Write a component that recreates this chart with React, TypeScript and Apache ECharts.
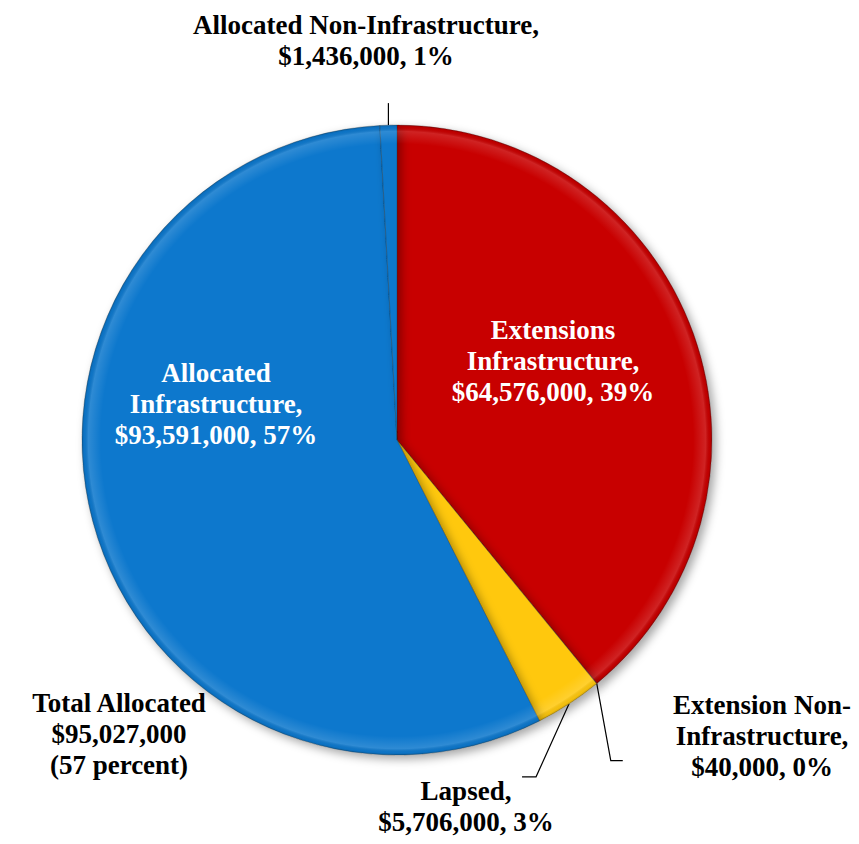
import React, { useEffect, useRef } from "react";
import * as echarts from "echarts";

const categories = [
  "Extensions\nInfrastructure",
  "Extension Non-\nInfrastructure",
  "Lapsed",
  "Allocated\nInfrastructure",
  "Allocated Non-Infrastructure",
];
const values = [64576000, 40000, 5706000, 93591000, 1436000];
const colors = ["#C80000", "#C80000", "#FFC80A", "#0A78CD", "#0A78CD"];
const labelColors = ["#FFFFFF", "#000000", "#000000", "#FFFFFF", "#000000"];
const allocatedIdx = [3, 4];
const totalTitle = "Total Allocated";

const fmt = (v: number) => "$" + v.toLocaleString("en-US");

export default function App() {
  const ref = useRef<HTMLDivElement>(null);
  useEffect(() => {
    if (!ref.current) return;
    const chart = echarts.init(ref.current, null, { renderer: "svg" });
    const total = values.reduce((a, b) => a + b, 0);
    const allocated = allocatedIdx.reduce((a, i) => a + values[i], 0);
    const pct = (v: number) => Math.round((v / total) * 100);
    const cx = 397,
      cy = 440,
      R = 315;

    const labelPos: Record<number, any> = {
      0: { x: 553, y: 361 },
      1: { x: 762, y: 736, line: [[14, 77], [26, 77]] },
      2: { x: 466, y: 806, line: [[-33, 73], [-47, 73]] },
      3: { x: 216, y: 404 },
      4: { x: 366, y: 40, line: [[0, -22], [0, -22]] },
    };

    const font = {
      fontFamily: "'Liberation Serif', 'Times New Roman', serif",
      fontWeight: "bold" as const,
      fontSize: 27,
      lineHeight: 31,
    };

    const option: any = {
      animation: false,
      backgroundColor: "#FFFFFF",
      series: [
        {
          type: "pie",
          center: [cx, cy],
          radius: [0, R],
          startAngle: 90,
          clockwise: true,
          avoidLabelOverlap: false,
          itemStyle: {
            borderColor: "rgba(40,40,40,0.4)",
            borderWidth: 0.7,
            shadowBlur: 10,
            shadowOffsetX: 4,
            shadowOffsetY: 4,
            shadowColor: "rgba(0,0,0,0.35)",
          },
          data: categories.map((name, i) => ({
            name,
            value: values[i],
            itemStyle: { color: colors[i] },
            label: {
              show: true,
              position: labelPos[i].line ? "outside" : "inside",
              color: labelColors[i],
              align: "center",
              ...font,
              formatter: () => `${name},\n${fmt(values[i])}, ${pct(values[i])}%`,
            },
            labelLine: {
              show: !!labelPos[i].line,
              length: 20,
              length2: 10,
              lineStyle: { color: "#000000", width: 1.2 },
            },
          })),
          labelLayout: (params: any) => {
            const p = labelPos[params.dataIndex];
            const res: any = {
              x: p.x,
              y: p.y,
              align: "center",
              verticalAlign: "middle",
            };
            if (p.line && params.labelLinePoints) {
              const e = params.labelLinePoints[0];
              res.labelLinePoints = [
                [e[0], e[1]],
                [e[0] + p.line[0][0], e[1] + p.line[0][1]],
                [e[0] + p.line[1][0], e[1] + p.line[1][1]],
              ];
            }
            return res;
          },
        },
        {
          type: "pie",
          center: [cx, cy],
          radius: [0, R],
          startAngle: 90,
          clockwise: true,
          silent: true,
          z: 3,
          label: { show: false },
          labelLine: { show: false },
          itemStyle: {
            borderWidth: 0,
            color: new echarts.graphic.RadialGradient(
              cx,
              cy,
              R,
              [
                { offset: 0, color: "rgba(255,255,255,0)" },
                { offset: 0.94, color: "rgba(255,255,255,0)" },
                { offset: 0.98, color: "rgba(255,255,255,0.14)" },
                { offset: 0.993, color: "rgba(0,0,0,0.04)" },
                { offset: 1, color: "rgba(0,0,0,0.18)" },
              ],
              true
            ),
          },
          data: categories.map((name, i) => ({ name, value: values[i] })),
        },
      ],
      graphic: [
        {
          type: "text",
          x: 119,
          y: 734,
          style: {
            text: `${totalTitle}\n${fmt(allocated)}\n(${pct(allocated)} percent)`,
            fill: "#000000",
            align: "center",
            verticalAlign: "middle",
            font: "bold 27px 'Liberation Serif', 'Times New Roman', serif",
            lineHeight: 31,
          },
        },
      ],
    };
    chart.setOption(option);
    return () => chart.dispose();
  }, []);
  return (
    <div
      ref={ref}
      style={{ position: "fixed", left: 0, top: 0, width: 859, height: 844 }}
    />
  );
}
